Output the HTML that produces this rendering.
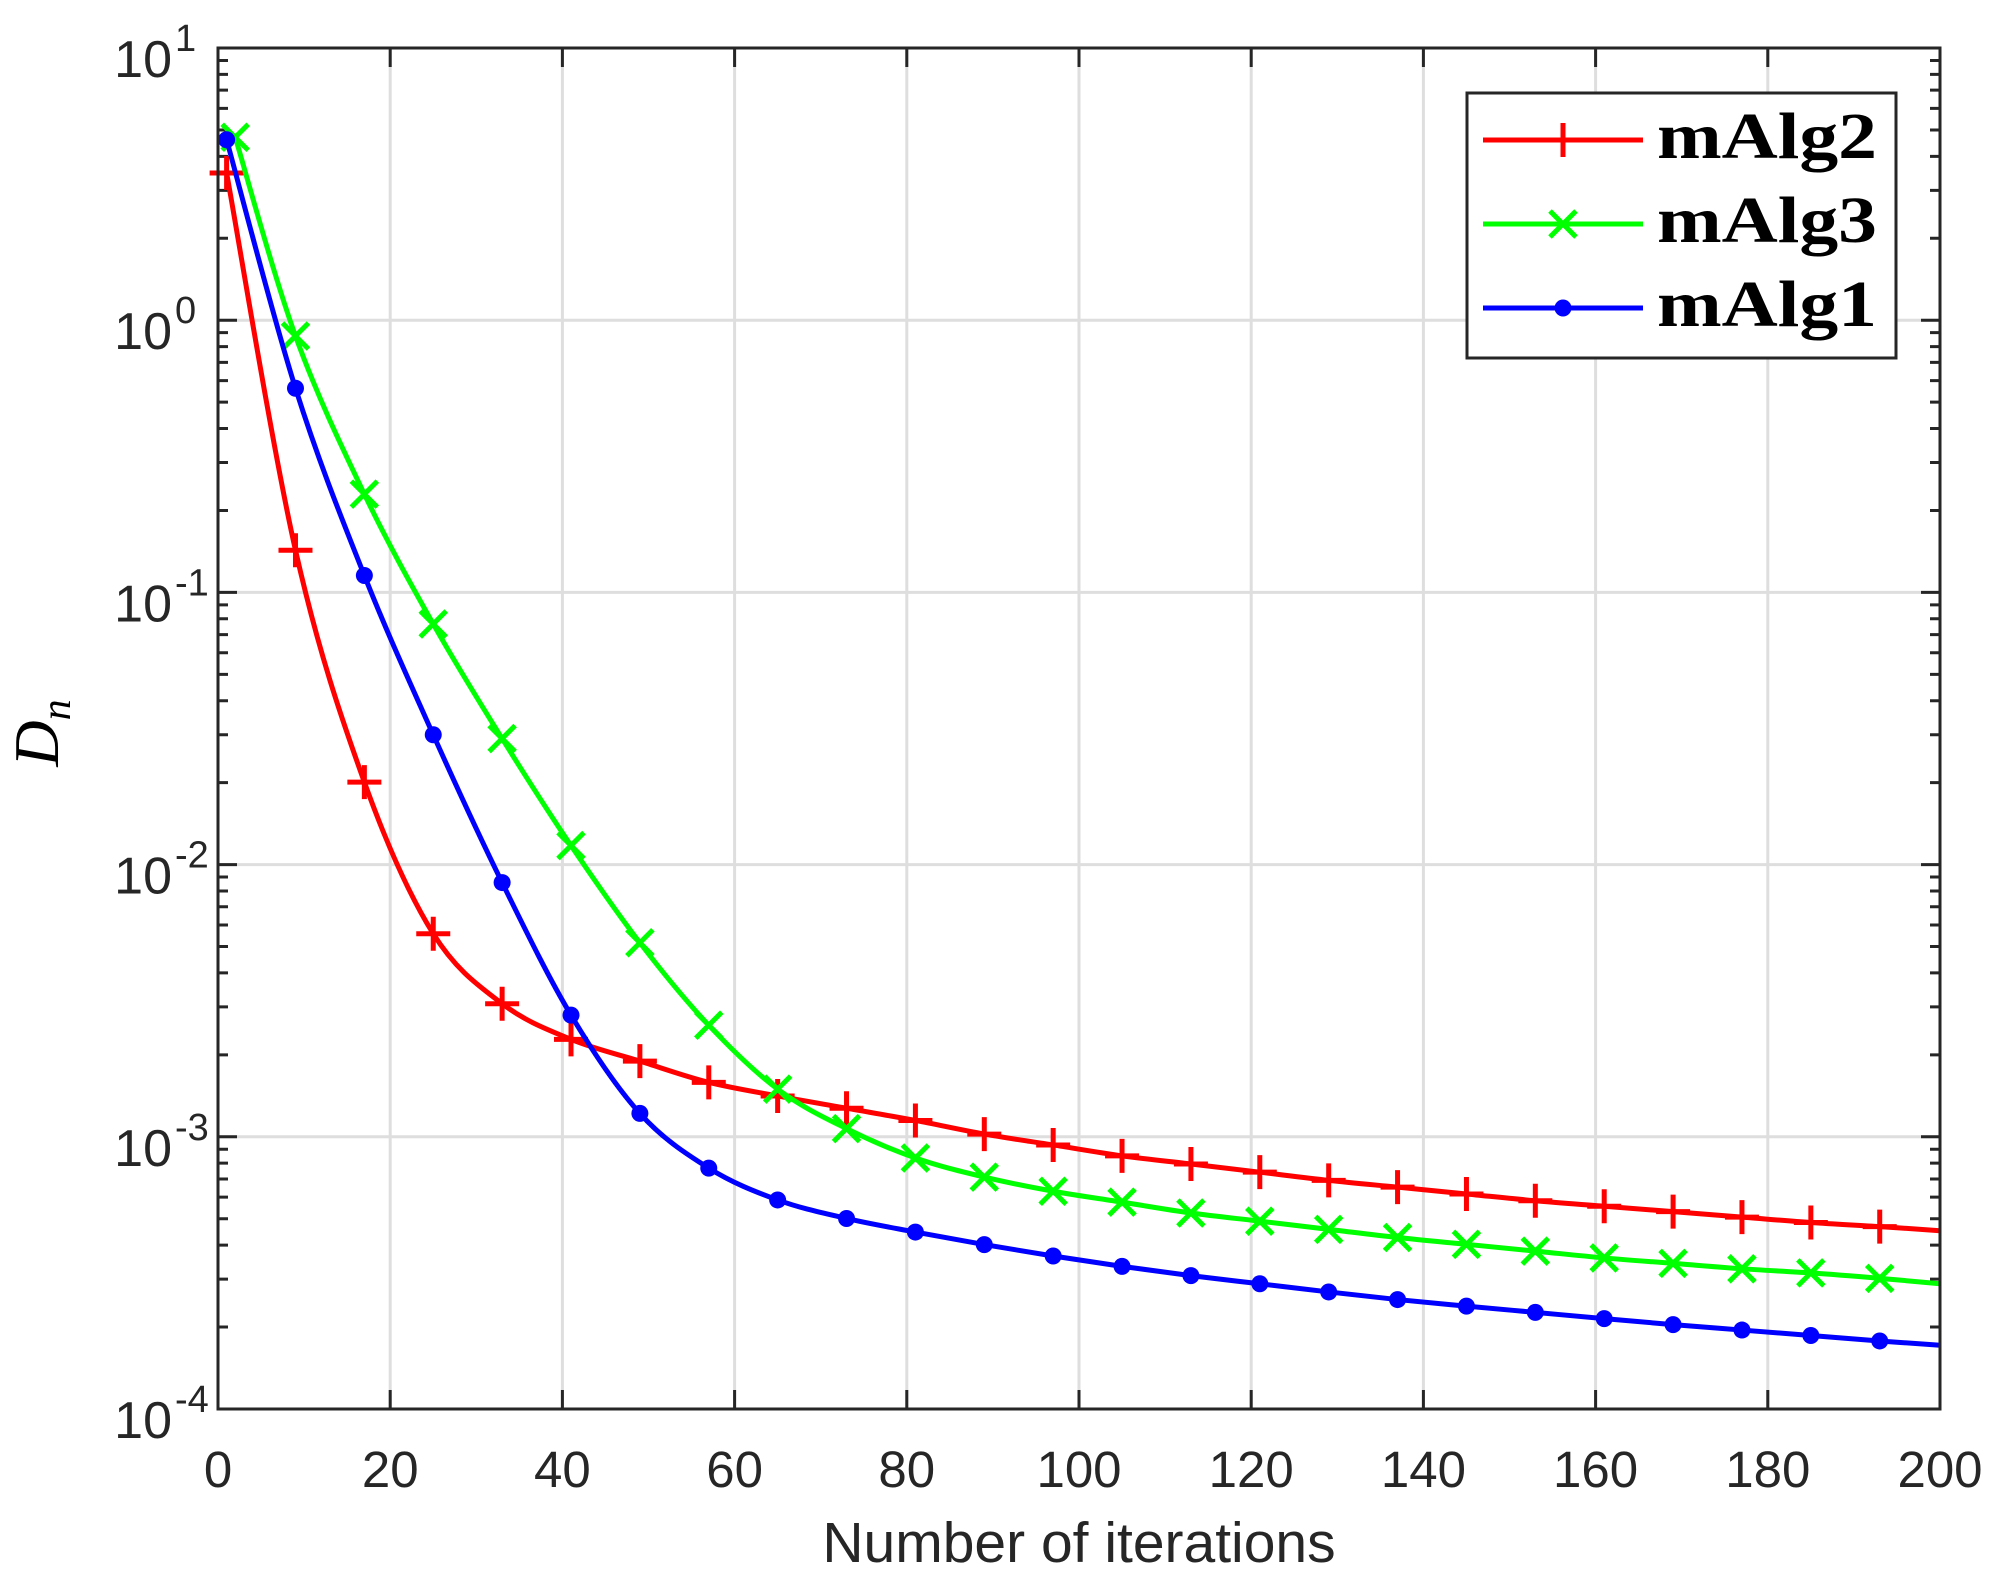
<!DOCTYPE html>
<html><head><meta charset="utf-8"><style>body{margin:0;background:#fff}svg{display:block}</style></head>
<body>
<svg id="s" width="1998" height="1592" xmlns="http://www.w3.org/2000/svg" font-family="Liberation Sans, Arial, sans-serif"></svg>
<script>
const L=218,R=1940,T=48,B=1409;
const X=x=>L+x*(R-L)/200, Y=l=>T+(1-l)*(B-T)/5;
let h='';
for(let i=1;i<10;i++){h+=`<line x1="${X(i*20)}" y1="${T}" x2="${X(i*20)}" y2="${B}" stroke="#dedede" stroke-width="3"/>`;}
for(let d=1;d<5;d++){h+=`<line x1="${L}" y1="${Y(1-d)}" x2="${R}" y2="${Y(1-d)}" stroke="#dedede" stroke-width="3"/>`;}
let tk='';
for(let i=1;i<10;i++){const x=X(i*20);tk+=`M${x} ${B}v-19M${x} ${T}v19`;}
for(let d=0;d<5;d++){for(let m=1;m<10;m++){const y=Y(-4+d+Math.log10(m));const len=m==1?19:10;if(d==0&&m==1)continue;tk+=`M${L} ${y}h${len}M${R} ${y}h-${len}`;}}
h+=`<path d="${tk}" stroke="#262626" stroke-width="3" fill="none"/>`;
function curve(pts){const P=pts.map(p=>[X(p[0]),Y(p[1])]);let d=`M${P[0][0]} ${P[0][1]}`;for(let i=0;i<P.length-1;i++){const p0=P[Math.max(0,i-1)],p1=P[i],p2=P[i+1],p3=P[Math.min(P.length-1,i+2)];d+=`C${p1[0]+(p2[0]-p0[0])/6} ${p1[1]+(p2[1]-p0[1])/6} ${p2[0]-(p3[0]-p1[0])/6} ${p2[1]-(p3[1]-p1[1])/6} ${p2[0]} ${p2[1]}`;}return d;}
const xs=[1,9,17,25,33,41,49,57,65,73,81,89,97,105,113,121,129,137,145,153,161,169,177,185,193,200];
const red=[0.541,-0.845,-1.697,-2.254,-2.511,-2.642,-2.722,-2.80,-2.85,-2.895,-2.94,-2.99,-3.03,-3.07,-3.10,-3.13,-3.16,-3.185,-3.21,-3.235,-3.255,-3.275,-3.295,-3.315,-3.33,-3.345];
const grn=[0.672,-0.058,-0.639,-1.116,-1.537,-1.93,-2.287,-2.59,-2.825,-2.97,-3.078,-3.148,-3.20,-3.24,-3.28,-3.31,-3.34,-3.37,-3.395,-3.42,-3.445,-3.465,-3.485,-3.50,-3.52,-3.54];
const blu=[0.663,-0.25,-0.938,-1.523,-2.066,-2.553,-2.914,-3.115,-3.232,-3.30,-3.35,-3.396,-3.438,-3.476,-3.51,-3.54,-3.57,-3.598,-3.622,-3.645,-3.668,-3.69,-3.71,-3.73,-3.75,-3.766];
const gx=xs.slice();gx[0]=2;
function plus(x,y,c){return `<path d="M${x-17} ${y}h34M${x} ${y-17}v34" stroke="${c}" stroke-width="5"/>`;}
function cross(x,y,c){return `<path d="M${x-13} ${y-13}l26 26M${x-13} ${y+13}l26 -26" stroke="${c}" stroke-width="5"/>`;}
function dot(x,y,c){return `<circle cx="${x}" cy="${y}" r="8.5" fill="${c}"/>`;}
function series(xa,ya,c,mk){let s=`<path d="${curve(xa.map((x,i)=>[x,ya[i]]))}" stroke="${c}" stroke-width="5" fill="none"/>`;for(let i=0;i<xa.length-1;i++)s+=mk(X(xa[i]),Y(ya[i]),c);return s;}
h+=series(xs,red,'#ff0000',plus);
h+=series(gx,grn,'#00ff00',cross);
h+=series(xs,blu,'#0000ff',dot);
h+=`<rect x="${L}" y="${T}" width="${R-L}" height="${B-T}" fill="none" stroke="#262626" stroke-width="3"/>`;
for(let i=0;i<=10;i++){h+=`<text x="${X(i*20)}" y="1487" font-size="51" fill="#262626" text-anchor="middle">${i*20}</text>`;}
const ex=['1','0','-1','-2','-3','-4'];
for(let d=0;d<6;d++){const y=Y(1-d);h+=`<text x="172" y="${y+29}" font-size="52" fill="#262626" text-anchor="end">10</text><text x="175" y="${y+3}" font-size="38" fill="#262626">${ex[d]}</text>`;}
h+=`<text x="1079" y="1562" font-size="57" fill="#262626" text-anchor="middle">Number of iterations</text>`;
h+=`<text transform="translate(58,733) rotate(-90)" font-family="Liberation Serif, serif" font-style="italic" font-size="64" fill="#000" text-anchor="middle">D<tspan font-size="42" dy="12">n</tspan></text>`;
h+=`<rect x="1467" y="93" width="429" height="265" fill="#fff" stroke="#262626" stroke-width="3"/>`;
const lg=[['mAlg2','#ff0000',plus,140],['mAlg3','#00ff00',cross,224],['mAlg1','#0000ff',dot,308]];
for(const [t,c,mk,y] of lg){h+=`<line x1="1483" y1="${y}" x2="1643" y2="${y}" stroke="${c}" stroke-width="5"/>`+mk(1563,y,c)+`<text x="1657" y="${y+18}" font-family="Liberation Serif, serif" font-weight="bold" font-size="66" textLength="220" lengthAdjust="spacingAndGlyphs" fill="#000">${t}</text>`;}
document.getElementById('s').innerHTML=h;
</script>
</body></html>
